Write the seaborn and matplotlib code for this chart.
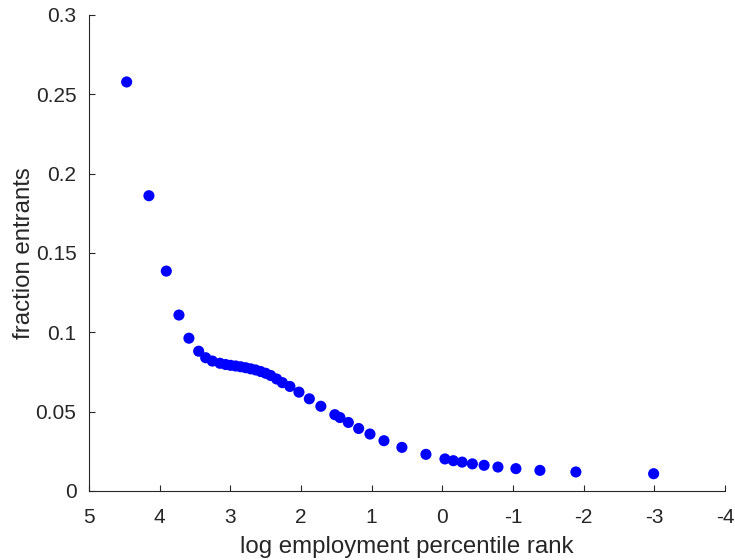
import matplotlib
matplotlib.use("Agg")
import matplotlib.pyplot as plt
import pandas as pd
import seaborn as sns

# --------------------------------------------------------------------------- #
# values
log_rank = [
    4.467, 4.152, 3.906, 3.727, 3.586, 3.448, 3.349, 3.255, 3.147, 3.066,
    2.996, 2.925, 2.854, 2.783, 2.712, 2.642, 2.571, 2.500, 2.429, 2.345,
    2.264, 2.157, 2.029, 1.882, 1.719, 1.521, 1.449, 1.330, 1.184, 1.024,
    0.826, 0.572, 0.232, -0.037, -0.156, -0.280, -0.425, -0.591, -0.787,
    -1.041, -1.381, -1.890, -2.990,
]
frac_entrants = [
    0.2578, 0.1861, 0.1386, 0.1109, 0.0963, 0.0881, 0.0840, 0.0819, 0.0805, 0.0797,
    0.0792, 0.0788, 0.0783, 0.0777, 0.0770, 0.0763, 0.0753, 0.0742, 0.0728, 0.0706,
    0.0683, 0.0659, 0.0623, 0.0581, 0.0534, 0.0481, 0.0463, 0.0432, 0.0394, 0.0359,
    0.0317, 0.0275, 0.0231, 0.0202, 0.0191, 0.0182, 0.0171, 0.0162, 0.0151,
    0.0141, 0.0130, 0.0120, 0.0109,
]
x_ticks = [5, 4, 3, 2, 1, 0, -1, -2, -3, -4]
y_ticks = [0, 0.05, 0.1, 0.15, 0.2, 0.25, 0.3]
y_tick_labels = ["0", "0.05", "0.1", "0.15", "0.2", "0.25", "0.3"]
# --------------------------------------------------------------------------- #

sns.set_style("ticks")
plt.rcParams["font.family"] = ["Liberation Sans", "DejaVu Sans"]
plt.rcParams["axes.unicode_minus"] = False

df = pd.DataFrame({"x": log_rank, "y": frac_entrants})

fig = plt.figure(figsize=(7.35, 5.6), dpi=100)
ax = fig.add_axes([89 / 735, 69 / 560, 636 / 735, 476 / 560])

sns.scatterplot(data=df, x="x", y="y", ax=ax, color="#0000ff",
                s=64, linewidth=0, edgecolor="none")

ax.set_xlim(5, -4)
ax.set_ylim(0, 0.3)
ax.set_xticks(x_ticks)
ax.set_xticklabels([str(t) for t in x_ticks])
ax.set_yticks(y_ticks)
ax.set_yticklabels(y_tick_labels)

grey = "#262626"
for side in ("top", "right"):
    ax.spines[side].set_visible(False)
for side in ("left", "bottom"):
    ax.spines[side].set_color(grey)
    ax.spines[side].set_linewidth(0.8)
ax.tick_params(direction="in", length=4.5, width=0.8, colors=grey,
               labelsize=15, labelcolor=grey)
ax.tick_params(axis="x", pad=12)
ax.tick_params(axis="y", pad=9)

ax.set_xlabel("log employment percentile rank", fontsize=17.3, color=grey,
              labelpad=6.5)
ax.set_ylabel("fraction entrants", fontsize=17.3, color=grey, labelpad=0.5)

fig.savefig("out.png", dpi=100)
